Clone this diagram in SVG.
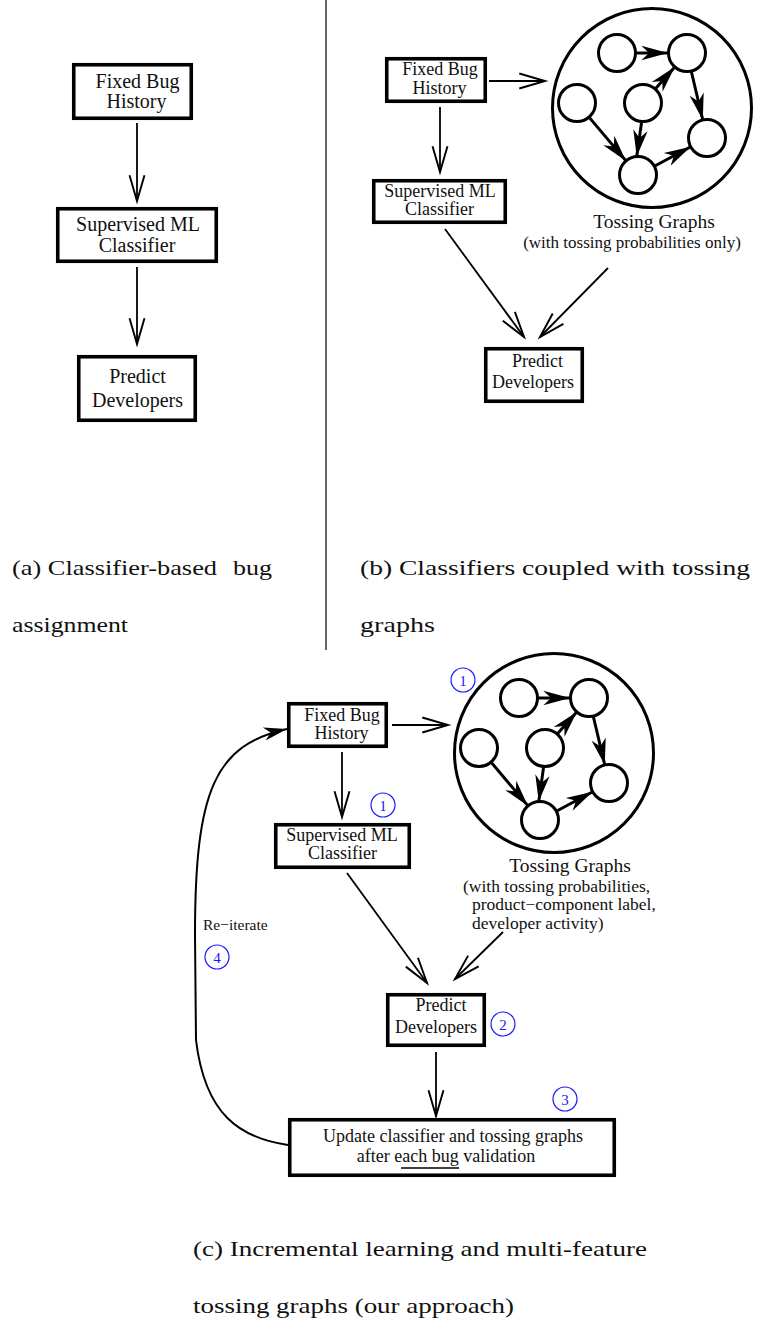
<svg xmlns="http://www.w3.org/2000/svg" xmlns:xlink="http://www.w3.org/1999/xlink" width="758" height="1321" viewBox="0 0 758 1321">
  <style>
    .box { fill: #fff; stroke: #000; stroke-width: 3.6; }
    .lbl { font-family: "Liberation Serif", "Times New Roman", serif; fill: #111; text-anchor: middle; }
    .lft { text-anchor: start; }
    .cap { font-family: "Liberation Serif", "Times New Roman", serif; font-size: 21px; fill: #111; }
    .conn { stroke: #000; stroke-width: 1.8; fill: none; marker-end: url(#vee); }
    .node { fill: #fff; stroke: #000; stroke-width: 3; }
    .edge { stroke: #000; stroke-width: 3; fill: none; marker-end: url(#stealth); }
    .step circle { fill: none; stroke: #1a1aff; stroke-width: 1.2; }
    .step text { font-family: "Liberation Serif", "Times New Roman", serif; font-size: 15px; fill: #1a1aff; text-anchor: middle; }
  </style>
  <defs>
    <!-- open V head for thin connectors -->
    <marker id="vee" markerUnits="userSpaceOnUse" markerWidth="30" markerHeight="20" viewBox="-26 -9 28 18" refX="0" refY="0" orient="auto" overflow="visible">
      <path d="M-24,-7 L0,0 L-24,7" fill="none" stroke="#000" stroke-width="1.8"/>
    </marker>
    <!-- filled stealth head for graph edges -->
    <marker id="stealth" markerUnits="userSpaceOnUse" markerWidth="30" markerHeight="20" viewBox="-26 -8 27 16" refX="0" refY="0" orient="auto" overflow="visible">
      <path d="M0,0 L-24,-6.5 L-17,0 L-24,6.5 Z" fill="#000"/>
    </marker>
    <marker id="stealthSmall" markerUnits="userSpaceOnUse" markerWidth="30" markerHeight="20" viewBox="-26 -8 27 16" refX="0" refY="0" orient="auto" overflow="visible">
      <path d="M0,0 L-21,-6 L-15,0 L-21,6 Z" fill="#000"/>
    </marker>
    <!-- a tossing graph: six developers with directed tossing edges -->
    <g id="tossGraph">
      <circle cx="652" cy="108" r="99.5" fill="none" stroke="#000" stroke-width="3"/>
      <line class="edge" x1="636" y1="53" x2="668" y2="53"/>
      <line class="edge" x1="655.2" y1="89.1" x2="674.8" y2="66.9"/>
      <line class="edge" x1="691.2" y1="71" x2="702.8" y2="120"/>
      <line class="edge" x1="589" y1="117.1" x2="626" y2="160.9"/>
      <line class="edge" x1="641.7" y1="121.4" x2="636.7" y2="156.6"/>
      <line class="edge" x1="654.3" y1="166.3" x2="690.7" y2="146.8"/>
      <circle class="node" cx="617" cy="53" r="18.5"/>
      <circle class="node" cx="687" cy="53" r="18.5"/>
      <circle class="node" cx="577" cy="103" r="18.5"/>
      <circle class="node" cx="643" cy="103" r="18.5"/>
      <circle class="node" cx="707" cy="138" r="18.5"/>
      <circle class="node" cx="638" cy="175" r="18.5"/>
    </g>
  </defs>

  <!-- divider between panels (a) and (b) -->
  <line x1="326" y1="0" x2="326" y2="650" stroke="#000" stroke-width="1.2"/>

  <!-- ===== panel (a) ===== -->
  <g id="a-fixed-bug-history">
    <rect class="box" x="73.75" y="64.75" width="117.5" height="53.5"/>
    <text class="lbl" font-size="20" x="137.5" y="87.5">Fixed Bug</text>
    <text class="lbl" font-size="20" x="136.5" y="107.5">History</text>
  </g>
  <g id="a-classifier">
    <rect class="box" x="57.75" y="208.75" width="158.5" height="52.5"/>
    <text class="lbl" font-size="20" x="138" y="231">Supervised ML</text>
    <text class="lbl" font-size="20" x="137" y="251.5">Classifier</text>
  </g>
  <g id="a-predict">
    <rect class="box" x="78.75" y="356.75" width="116.5" height="63.5"/>
    <text class="lbl" font-size="20" x="137.5" y="383">Predict</text>
    <text class="lbl" font-size="20" x="137.5" y="407">Developers</text>
  </g>

  <!-- ===== panel (b) ===== -->
  <g id="b-fixed-bug-history">
    <rect class="box" x="386.75" y="58.75" width="98.5" height="42.5"/>
    <text class="lbl" font-size="18" x="440" y="75">Fixed Bug</text>
    <text class="lbl" font-size="18" x="439.5" y="94">History</text>
  </g>
  <g id="b-tossing-graphs">
    <use xlink:href="#tossGraph"/>
    <text class="lbl" font-size="19.5" x="654" y="228">Tossing Graphs</text>
    <text class="lbl" font-size="17" x="632" y="248">(with tossing probabilities only)</text>
  </g>
  <g id="b-classifier">
    <rect class="box" x="373.75" y="180.75" width="131.5" height="41.5"/>
    <text class="lbl" font-size="18" x="440" y="197">Supervised ML</text>
    <text class="lbl" font-size="18" x="439.5" y="214.5">Classifier</text>
  </g>
  <g id="b-predict">
    <rect class="box" x="485.75" y="348.75" width="96.5" height="52.5"/>
    <text class="lbl" font-size="18" x="537.5" y="367">Predict</text>
    <text class="lbl" font-size="18" x="533" y="388">Developers</text>
  </g>

  <!-- ===== panel (c) ===== -->
  <g id="c-fixed-bug-history">
    <rect class="box" x="288.75" y="703.75" width="97.5" height="42.5"/>
    <text class="lbl" font-size="18" x="342" y="721">Fixed Bug</text>
    <text class="lbl" font-size="18" x="341.5" y="739">History</text>
  </g>
  <g id="c-tossing-graphs">
    <use xlink:href="#tossGraph" transform="translate(-98,645)"/>
    <text class="lbl" font-size="19.5" x="570" y="872">Tossing Graphs</text>
    <text class="lbl lft" font-size="17.5" x="463" y="892">(with tossing probabilities,</text>
    <text class="lbl lft" font-size="17.5" x="472" y="910">product−component label,</text>
    <text class="lbl lft" font-size="17.5" x="472" y="929">developer activity)</text>
  </g>
  <g id="c-classifier">
    <rect class="box" x="275.75" y="824.75" width="133.5" height="42.5"/>
    <text class="lbl" font-size="18" x="342" y="841">Supervised ML</text>
    <text class="lbl" font-size="18" x="342.5" y="858.5">Classifier</text>
  </g>
  <g id="c-predict">
    <rect class="box" x="387.75" y="994.75" width="96.5" height="50.5"/>
    <text class="lbl" font-size="18" x="441" y="1011">Predict</text>
    <text class="lbl" font-size="18" x="436" y="1033">Developers</text>
  </g>
  <g id="c-update">
    <rect class="box" x="289.75" y="1119.75" width="324.5" height="55.5"/>
    <text class="lbl" font-size="18" x="453" y="1142">Update classifier and tossing graphs</text>
    <text class="lbl" font-size="18" x="446" y="1162">after each bug validation</text>
    <line x1="401" y1="1168" x2="459" y2="1168" stroke="#000" stroke-width="1.3"/>
  </g>
  <g id="c-reiterate">
    <text font-family="Liberation Serif, Times New Roman, serif" font-size="15.5" fill="#111" x="203" y="930">Re−iterate</text>
  </g>

  <!-- step markers -->
  <g class="step" id="step-1a"><circle cx="463" cy="680" r="12"/><text x="463" y="685.5">1</text></g>
  <g class="step" id="step-1b"><circle cx="383" cy="805" r="12"/><text x="383" y="810.5">1</text></g>
  <g class="step" id="step-2"><circle cx="503" cy="1024" r="12"/><text x="503" y="1029.5">2</text></g>
  <g class="step" id="step-3"><circle cx="565" cy="1099" r="12"/><text x="565" y="1104.5">3</text></g>
  <g class="step" id="step-4"><circle cx="217" cy="957" r="12"/><text x="217" y="962.5">4</text></g>

  <!-- connectors -->
  <g id="connectors">
    <line class="conn" x1="137" y1="123" x2="137" y2="201"/>
    <line class="conn" x1="137" y1="267" x2="137" y2="344"/>

    <line class="conn" x1="489" y1="81" x2="545" y2="81"/>
    <line class="conn" x1="440" y1="107" x2="440" y2="172"/>
    <line class="conn" x1="445" y1="229" x2="524" y2="337"/>
    <line class="conn" x1="608" y1="268" x2="540" y2="337"/>

    <line class="conn" x1="392" y1="725" x2="448" y2="725"/>
    <line class="conn" x1="342" y1="752" x2="342" y2="817"/>
    <line class="conn" x1="347" y1="873" x2="427" y2="983"/>
    <line class="conn" x1="503" y1="932" x2="455" y2="979"/>
    <line class="conn" x1="436" y1="1052" x2="436" y2="1116"/>
    <path d="M288,1145 C240,1138 205,1115 196,1040 L195,935 C195,790 215,745 287,729" fill="none" stroke="#000" stroke-width="2" marker-end="url(#stealthSmall)"/>
  </g>

  <!-- sub-figure captions -->
  <text class="cap" x="12" y="575" textLength="205" lengthAdjust="spacingAndGlyphs">(a) Classifier-based</text>
  <text class="cap" x="233" y="575" textLength="39" lengthAdjust="spacingAndGlyphs">bug</text>
  <text class="cap" x="12" y="632" textLength="116" lengthAdjust="spacingAndGlyphs">assignment</text>
  <text class="cap" x="360" y="575" textLength="390" lengthAdjust="spacingAndGlyphs">(b) Classifiers coupled with tossing</text>
  <text class="cap" x="360" y="632" textLength="75" lengthAdjust="spacingAndGlyphs">graphs</text>
  <text class="cap" x="193" y="1256" textLength="454" lengthAdjust="spacingAndGlyphs">(c) Incremental learning and multi-feature</text>
  <text class="cap" x="193" y="1313" textLength="321" lengthAdjust="spacingAndGlyphs">tossing graphs (our approach)</text>
</svg>
